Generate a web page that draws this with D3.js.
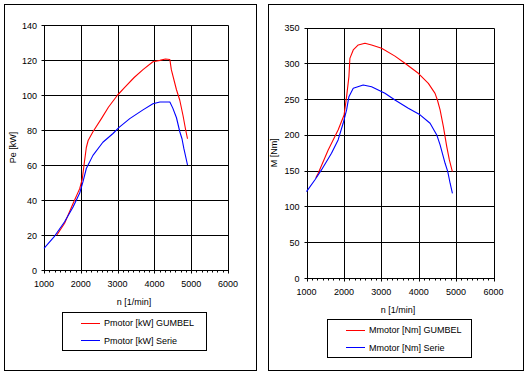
<!DOCTYPE html>
<html>
<head>
<meta charset="utf-8">
<script src="https://cdn.jsdelivr.net/npm/d3@7"></script>
<style>
  body { margin: 0; background: #fff; }
  svg text { font-family: "Liberation Sans", Arial, sans-serif; font-size: 9px; fill: #000; }
</style>
</head>
<body>
<div id="svg"></div>
<script>
// engine speed (1/min) and values
var xTicks = [1000, 2000, 3000, 4000, 5000, 6000];

var peTicks = [0, 20, 40, 60, 80, 100, 120, 140];
var peGumbelRpm = [1350, 1560, 1790, 1970, 2040, 2100, 2150, 2200, 2330, 2560, 2750, 3000, 3200, 3450, 3690, 3960, 4150, 4300, 4420, 4460, 4600, 4690, 4780, 4850, 4900];
var peGumbel = [20, 26.7, 38, 46.5, 52, 62, 70, 74, 79, 86.5, 93, 100, 104.5, 110, 114.5, 119, 119.8, 120.6, 120.3, 114.5, 103, 97, 88, 80, 75];
var peSerieRpm = [1000, 1290, 1560, 1790, 1970, 2060, 2150, 2330, 2600, 2875, 3040, 3330, 3690, 3960, 4150, 4420, 4500, 4600, 4690, 4750, 4800, 4900];
var peSerie = [12.4, 19.4, 27.6, 36, 44, 50.5, 58, 65.5, 73, 78, 81.5, 86.5, 91.5, 95, 96, 96, 92.5, 87, 79, 75, 69.5, 60];

var mTicks = [0, 50, 100, 150, 200, 250, 300, 350];
var mGumbelRpm = [1250, 1313, 1580, 1845, 2005, 2072, 2134, 2160, 2250, 2384, 2563, 2740, 3009, 3365, 3633, 3990, 4258, 4437, 4500, 4572, 4660, 4750, 4820, 4900];
var mGumbel = [140, 146.4, 178.9, 206.8, 227.8, 253.4, 281.3, 306.8, 318.6, 325.6, 328, 325.6, 321, 310, 300, 286, 272, 258, 248.7, 234.8, 211.5, 183.5, 165, 148.6];
var mSerieRpm = [1000, 1222, 1400, 1668, 1845, 1980, 2072, 2134, 2250, 2516, 2740, 3097, 3365, 3722, 4036, 4304, 4483, 4572, 4706, 4777, 4840, 4902];
var mSerie = [120.7, 137, 151, 174.3, 192.9, 216.2, 234.8, 253.4, 265, 269.7, 267.3, 258.1, 248.7, 237.2, 228, 216.2, 199.9, 185.9, 160.3, 148.6, 132.4, 118.4];

(function() {
	var svg = d3
		.select("#svg")
		.append("svg")
		.attr("width", 529)
		.attr("height", 375);

	function zip(xs, ys) {
		return xs.map(function(x, i) {
			return [x, ys[i]];
		});
	}

	function drawChart(c) {
		var g = svg.append("g");

		// outer frame
		g.append("rect")
			.attr("x", c.box[0] + 0.5)
			.attr("y", c.box[1] + 0.5)
			.attr("width", c.box[2] - c.box[0])
			.attr("height", c.box[3] - c.box[1])
			.attr("fill", "#fff")
			.attr("stroke", "#000");

		var x = d3.scaleLinear().domain([1000, 6000]).range([c.plot[0], c.plot[2]]);
		var y = d3.scaleLinear().domain([0, c.yMax]).range([c.plot[3], c.plot[1]]);

		// grid
		g.selectAll(".vg")
			.data(xTicks)
			.enter()
			.append("line")
			.attr("x1", function(d) { return Math.round(x(d)) + 0.5; })
			.attr("x2", function(d) { return Math.round(x(d)) + 0.5; })
			.attr("y1", Math.round(y(c.yMax)) + 0.5)
			.attr("y2", Math.round(y(0)) + 3.5)
			.attr("stroke", "#000");
		g.selectAll(".hg")
			.data(c.yTicks)
			.enter()
			.append("line")
			.attr("x1", Math.round(x(1000)) - 3 + 0.5)
			.attr("x2", Math.round(x(6000)) + 0.5)
			.attr("y1", function(d) { return Math.round(y(d)) + 0.5; })
			.attr("y2", function(d) { return Math.round(y(d)) + 0.5; })
			.attr("stroke", "#000");

		// minor ticks on n axis
		var minor = [];
		xTicks.slice(0, -1).forEach(function(t) {
			for (var k = 1; k < 7; k++) minor.push(t + (k * 1000) / 7);
		});
		g.selectAll(".mt")
			.data(minor)
			.enter()
			.append("line")
			.attr("x1", function(d) { return Math.round(x(d)) + 0.5; })
			.attr("x2", function(d) { return Math.round(x(d)) + 0.5; })
			.attr("y1", Math.round(y(0)) + 0.5)
			.attr("y2", Math.round(y(0)) + 2.5)
			.attr("stroke", "#000");

		// tick labels
		g.selectAll(".yl")
			.data(c.yTicks)
			.enter()
			.append("text")
			.attr("x", c.plot[0] - 7)
			.attr("y", function(d) { return y(d) + 3.5; })
			.attr("text-anchor", "end")
			.text(function(d) { return d; });
		g.selectAll(".xl")
			.data(xTicks)
			.enter()
			.append("text")
			.attr("x", function(d) { return x(d); })
			.attr("y", y(0) + 16.5)
			.attr("text-anchor", "middle")
			.text(function(d) { return d; });

		// axis titles
		g.append("text")
			.attr("x", (c.plot[0] + c.plot[2]) / 2 - 2)
			.attr("y", y(0) + 34.5)
			.attr("text-anchor", "middle")
			.text("n  [1/min]");
		g.append("text")
			.attr("transform", "translate(" + c.yTitleX + "," + (c.plot[1] + c.plot[3]) / 2 + ") rotate(-90)")
			.attr("text-anchor", "middle")
			.text(c.yTitle);

		// curves
		var line = d3
			.line()
			.x(function(d) { return x(d[0]); })
			.y(function(d) { return y(d[1]); });
		c.series.forEach(function(s) {
			g.append("path")
				.datum(s.data)
				.attr("fill", "none")
				.attr("stroke", s.color)
				.attr("stroke-width", 1.1)
				.attr("stroke-linejoin", "round")
				.attr("d", line);
		});

		// legend
		var L = c.legend;
		g.append("rect")
			.attr("x", L.x + 0.5)
			.attr("y", L.y + 0.5)
			.attr("width", L.w)
			.attr("height", L.h)
			.attr("fill", "#fff")
			.attr("stroke", "#000");
		c.series.forEach(function(s, i) {
			var ly = L.y + 10.5 + i * 17.5;
			g.append("line")
				.attr("x1", L.x + 19)
				.attr("x2", L.x + 38)
				.attr("y1", Math.round(ly) + 0.5)
				.attr("y2", Math.round(ly) + 0.5)
				.attr("stroke", s.color);
			g.append("text")
				.attr("x", L.x + 42)
				.attr("y", ly + 3.5)
				.text(s.name);
		});
	}

	drawChart({
		box: [4, 4, 256, 370],
		plot: [44, 25, 228, 270],
		yMax: 140,
		yTicks: peTicks,
		yTitle: "Pe  [kW]",
		yTitleX: 16,
		legend: { x: 62, y: 312, w: 144, h: 38 },
		series: [
			{ name: "Pmotor  [kW]  GUMBEL", color: "#ff0000", data: zip(peGumbelRpm, peGumbel) },
			{ name: "Pmotor  [kW]  Serie", color: "#0000ff", data: zip(peSerieRpm, peSerie) }
		]
	});

	drawChart({
		box: [268, 4, 523, 370],
		plot: [306.5, 27.5, 493.5, 278],
		yMax: 350,
		yTicks: mTicks,
		yTitle: "M  [Nm]",
		yTitleX: 277,
		legend: { x: 327, y: 319, w: 144, h: 38 },
		series: [
			{ name: "Mmotor  [Nm]  GUMBEL", color: "#ff0000", data: zip(mGumbelRpm, mGumbel) },
			{ name: "Mmotor  [Nm]  Serie", color: "#0000ff", data: zip(mSerieRpm, mSerie) }
		]
	});
})();
</script>
</body>
</html>
